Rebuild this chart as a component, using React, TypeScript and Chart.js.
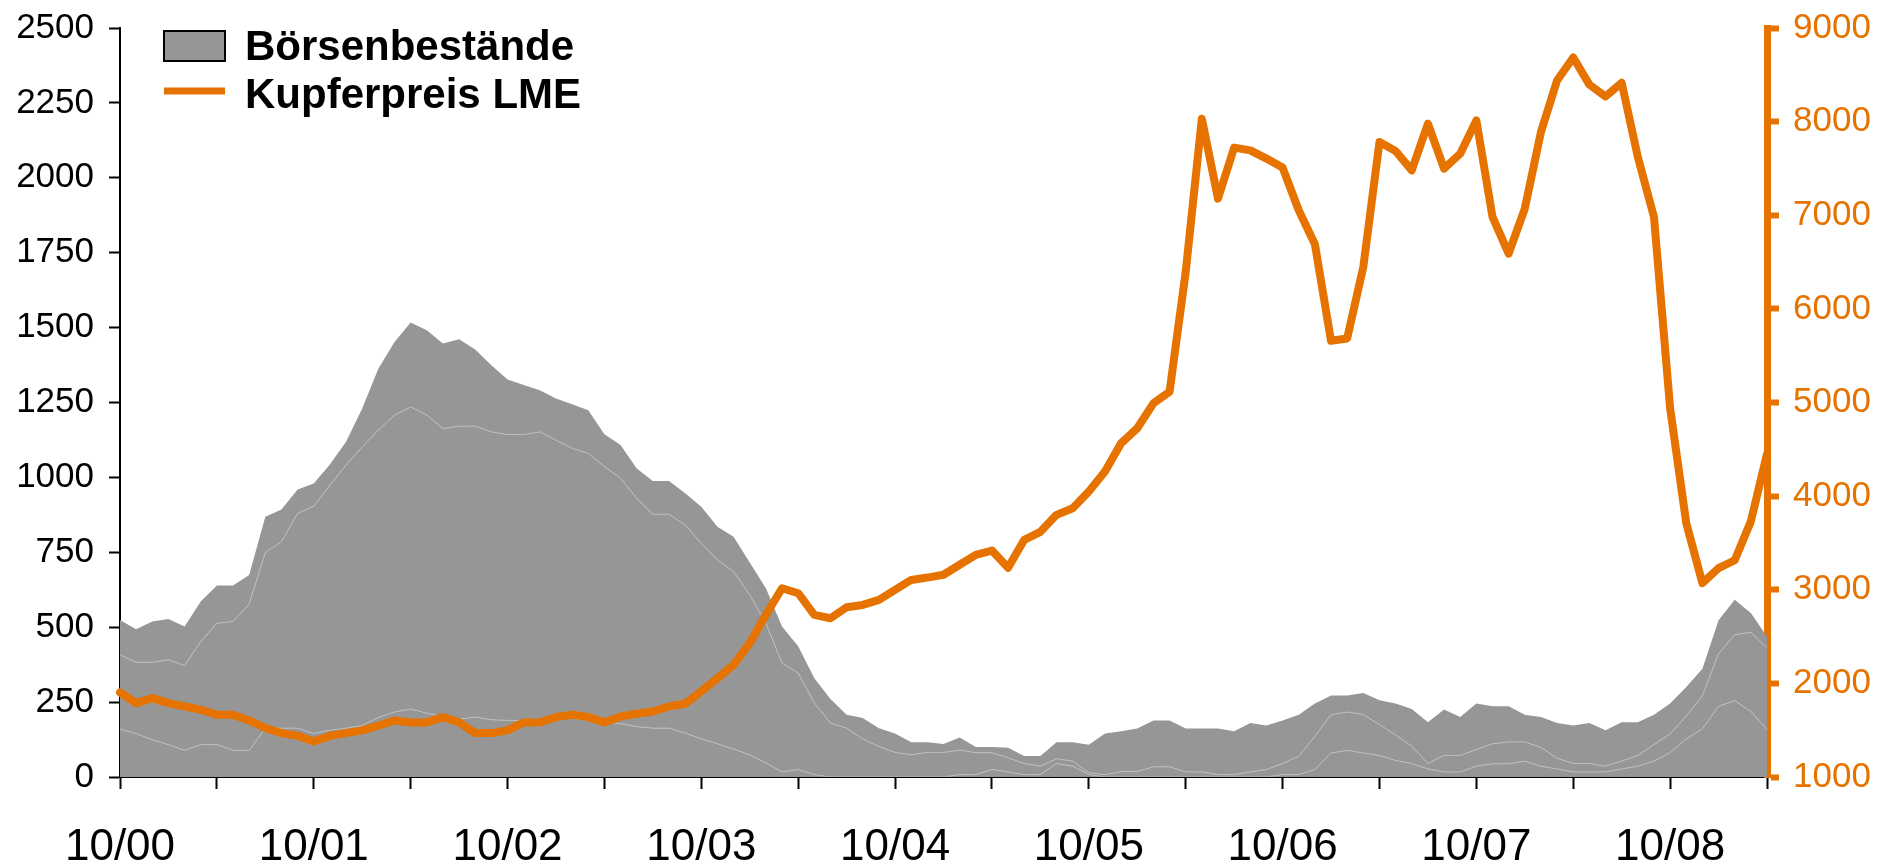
import React, { useEffect, useRef } from 'react';
import { Chart, registerables } from 'chart.js';

Chart.register(...registerables);

const ORANGE = '#E67300';
const GRAY = '#969696';
const SEP = '#bdbdbd';
const FONT = '"Liberation Sans", Arial, Helvetica, sans-serif';

// Monthly categories from 10/00 to 04/09
const monthLabels: string[] = Array.from({ length: 103 }, (_, i) => {
  const m = ((9 + i) % 12) + 1;
  const y = Math.floor((9 + i) / 12);
  return `${String(m).padStart(2, '0')}/${String(y).padStart(2, '0')}`;
});

// Börsenbestände (kt), cumulative levels of the three stacked exchange stocks
const bestandUnten = [
  160, 145, 124, 108, 89, 108, 108, 89, 89, 163, 163, 163, 145, 156, 163, 172, 199, 217, 227, 213,
  202, 193, 200, 191, 189, 189, 191, 200, 195, 190, 185, 178, 168, 163, 163, 147, 127, 111, 93, 74,
  47, 17, 25, 8, 0, 0, 0, 0, 0, 0, 0, 0, 8, 8, 25, 17, 8, 8, 45, 36,
  8, 0, 0, 0, 0, 0, 0, 0, 0, 0, 0, 0, 8, 8, 25, 80, 89, 80, 72, 55,
  45, 27, 17, 17, 36, 44, 44, 53, 36, 27, 17, 17, 17, 27, 36, 53, 81, 127, 161, 236,
  255, 219, 158,
];
const bestandMitte = [
  408, 383, 383, 391, 372, 452, 513, 519, 578, 749, 786, 880, 904, 974, 1041, 1102, 1158, 1208, 1235, 1208,
  1163, 1171, 1171, 1152, 1143, 1143, 1152, 1124, 1097, 1080, 1036, 997, 930, 877, 877, 841, 780, 724, 686, 608,
  513, 380, 347, 247, 180, 163, 127, 102, 82, 74, 82, 82, 90, 81, 81, 64, 45, 36, 61, 53,
  14, 8, 18, 18, 34, 34, 17, 17, 8, 8, 17, 25, 45, 69, 136, 208, 217, 208, 175, 140,
  103, 45, 72, 72, 92, 111, 117, 117, 99, 63, 45, 45, 36, 53, 72, 108, 144, 203, 271, 411,
  475, 483, 430,
];
const bestandGesamt = [
  524, 493, 519, 527, 502, 586, 639, 639, 674, 869, 893, 960, 980, 1043, 1119, 1230, 1363, 1452, 1517, 1491,
  1447, 1461, 1427, 1374, 1327, 1308, 1291, 1263, 1244, 1224, 1144, 1108, 1030, 988, 988, 947, 902, 835, 802, 716,
  630, 502, 436, 330, 260, 208, 197, 163, 145, 116, 116, 110, 132, 100, 100, 98, 70, 70, 116, 116,
  108, 145, 153, 162, 189, 189, 162, 162, 162, 153, 180, 172, 189, 208, 245, 272, 272, 280, 256, 245,
  227, 183, 225, 200, 245, 236, 236, 208, 200, 180, 172, 180, 156, 183, 183, 208, 245, 300, 361, 523,
  592, 547, 469,
];

// Kupferpreis LME (USD/t)
const kupferpreis = [
  1903, 1789, 1843, 1789, 1754, 1718, 1665, 1665, 1604, 1523, 1469, 1441, 1380, 1441, 1469, 1498, 1548, 1604, 1583, 1583,
  1640, 1583, 1469, 1469, 1498, 1583, 1583, 1640, 1665, 1640, 1583, 1647, 1676, 1700, 1754, 1782, 1914, 2056, 2198, 2429,
  2732, 3016, 2963, 2732, 2696, 2813, 2838, 2892, 2998, 3105, 3130, 3160, 3267, 3373, 3419, 3235, 3533, 3619, 3800, 3871,
  4049, 4262, 4565, 4725, 4991, 5115, 6395, 8031, 7178, 7722, 7693, 7605, 7509, 7053, 6691, 5659, 5684, 6449, 7782, 7686,
  7480, 7978, 7498, 7658, 8013, 6982, 6591, 7071, 7889, 8440, 8685, 8395, 8269, 8415, 7622, 6982, 4940, 3712, 3071, 3231,
  3315, 3730, 4450,
];

const legendLabels = ['Börsenbestände', 'Kupferpreis LME'];

const legendPlugin = {
  id: 'insideLegend',
  afterDraw(chart: any) {
    const ctx = chart.ctx as CanvasRenderingContext2D;
    ctx.save();
    ctx.fillStyle = GRAY;
    ctx.fillRect(164, 31, 61, 30);
    ctx.strokeStyle = '#000';
    ctx.lineWidth = 2;
    ctx.strokeRect(164, 31, 61, 30);
    ctx.strokeStyle = ORANGE;
    ctx.lineWidth = 7;
    ctx.beginPath();
    ctx.moveTo(164, 91);
    ctx.lineTo(225, 91);
    ctx.stroke();
    ctx.fillStyle = '#000';
    ctx.font = `bold 42px ${FONT}`;
    ctx.textBaseline = 'alphabetic';
    ctx.textAlign = 'left';
    ctx.fillText(legendLabels[0], 245, 60);
    ctx.fillText(legendLabels[1], 245, 108);
    ctx.restore();
  },
};

export default function App() {
  const ref = useRef<HTMLCanvasElement | null>(null);

  useEffect(() => {
    if (!ref.current) return;
    const areaCommon = {
      type: 'line' as const,
      yAxisID: 'y',
      pointRadius: 0,
      tension: 0,
      backgroundColor: GRAY,
    };
    const chart = new Chart(ref.current, {
      type: 'line',
      data: {
        labels: monthLabels,
        datasets: [
          {
            label: legendLabels[1],
            data: kupferpreis,
            yAxisID: 'y1',
            borderColor: ORANGE,
            borderWidth: 8,
            pointRadius: 0,
            fill: false,
            tension: 0,
            borderJoinStyle: 'round',
            borderCapStyle: 'round',
            order: 0,
          },
          {
            ...areaCommon,
            label: 'Bestand 1',
            data: bestandUnten,
            fill: 'origin',
            borderColor: SEP,
            borderWidth: 1,
            order: 1,
          },
          {
            ...areaCommon,
            label: 'Bestand 2',
            data: bestandMitte,
            fill: '-1',
            borderColor: SEP,
            borderWidth: 1,
            order: 2,
          },
          {
            ...areaCommon,
            label: legendLabels[0],
            data: bestandGesamt,
            fill: '-1',
            borderColor: GRAY,
            borderWidth: 0,
            order: 3,
          },
        ],
      },
      options: {
        responsive: false,
        animation: false,
        layout: { autoPadding: false, padding: { top: 28, left: 0, right: 0, bottom: 0 } },
        plugins: { legend: { display: false }, tooltip: { enabled: false } },
        scales: {
          x: {
            type: 'category',
            offset: false,
            grid: {
              display: true,
              drawOnChartArea: false,
              drawTicks: true,
              tickLength: 12,
              tickWidth: 2,
              tickColor: (c: any) => (c.index % 6 === 0 ? '#000' : 'rgba(0,0,0,0)'),
            },
            border: { display: true, color: '#000', width: 2 },
            ticks: {
              autoSkip: false,
              maxRotation: 0,
              minRotation: 0,
              padding: 32,
              color: '#000',
              font: { size: 44, family: FONT },
              callback: (_v: any, i: number) => (i % 12 === 0 ? monthLabels[i] : ''),
            },
            afterFit: (s: any) => {
              s.height = 90;
              s.paddingLeft = 0;
              s.paddingRight = 0;
            },
          },
          y: {
            position: 'left',
            min: 0,
            max: 2500,
            grid: {
              drawOnChartArea: false,
              tickLength: 11,
              tickWidth: 2,
              tickColor: '#000',
            },
            border: { display: true, color: '#000', width: 2 },
            ticks: {
              stepSize: 250,
              padding: 15,
              color: '#000',
              font: { size: 35, family: FONT },
              callback: (v: any) => String(v),
            },
            afterFit: (s: any) => {
              s.width = 120;
              s.paddingTop = 0;
              s.paddingBottom = 0;
            },
          },
          y1: {
            position: 'right',
            min: 1000,
            max: 9000,
            grid: {
              drawOnChartArea: false,
              tickLength: 12,
              tickWidth: 6,
              tickColor: ORANGE,
            },
            border: { display: true, color: ORANGE, width: 7 },
            ticks: {
              stepSize: 1000,
              padding: 14,
              color: ORANGE,
              font: { size: 35, family: FONT },
              callback: (v: any) => String(v),
            },
            afterFit: (s: any) => {
              s.width = 123;
              s.paddingTop = 0;
              s.paddingBottom = 0;
            },
          },
        },
      },
      plugins: [legendPlugin],
    } as any);
    return () => chart.destroy();
  }, []);

  return (
    <div style={{ position: 'absolute', left: 0, top: 0, width: 1890, height: 867, background: '#fff' }}>
      <canvas ref={ref} width={1890} height={867} style={{ display: 'block' }} />
    </div>
  );
}
